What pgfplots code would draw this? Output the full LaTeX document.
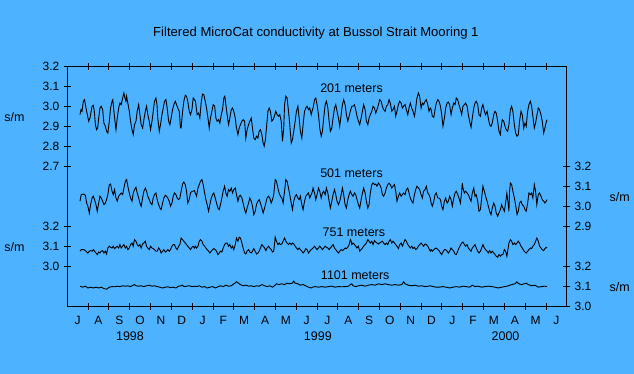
\documentclass[border=0pt]{standalone}
\usepackage{pgfplots}
\pgfplotsset{compat=1.18}
\usepackage{pgfplotstable}
\usepackage{fontspec}
\setmainfont{Liberation Sans}
\definecolor{bg}{RGB}{77,178,255}

\pgfplotstableread{
m v
0.61 2.960
0.66 2.985
0.71 2.977
0.77 3.027
0.83 3.035
0.87 3.010
0.93 2.977
1.03 2.927
1.09 2.943
1.19 3.002
1.25 3.007
1.30 2.977
1.35 2.910
1.41 2.885
1.46 2.893
1.51 2.943
1.57 2.993
1.63 3.002
1.70 2.985
1.76 2.918
1.83 2.902
1.89 2.877
1.95 2.868
2.02 2.927
2.08 2.993
2.15 3.027
2.19 3.035
2.24 2.977
2.31 2.910
2.34 2.885
2.40 2.943
2.47 2.993
2.53 3.018
2.59 3.010
2.66 3.043
2.72 3.068
2.77 3.043
2.82 3.027
2.85 3.052
2.91 3.018
2.98 2.977
3.04 2.927
3.11 2.885
3.17 2.860
3.23 2.910
3.30 2.927
3.36 2.977
3.43 3.010
3.49 2.960
3.55 2.910
3.62 2.893
3.68 2.935
3.75 2.977
3.81 3.002
3.87 2.960
3.94 2.927
4.00 2.885
4.07 2.927
4.13 2.977
4.19 3.027
4.26 3.043
4.31 3.010
4.35 2.943
4.42 2.877
4.48 2.910
4.55 2.960
4.61 2.993
4.67 3.027
4.74 3.035
4.80 2.993
4.87 2.927
4.93 2.910
4.99 2.943
5.06 2.985
5.12 3.010
5.19 3.027
5.25 3.010
5.31 2.993
5.38 2.977
5.44 2.893
5.47 2.893
5.54 2.977
5.60 3.027
5.67 3.057
5.73 3.052
5.79 3.027
5.86 2.977
5.92 2.960
5.99 2.985
6.05 3.043
6.11 3.035
6.16 3.027
6.24 2.960
6.31 2.968
6.37 2.943
6.44 3.027
6.50 3.063
6.56 3.060
6.63 3.027
6.69 2.993
6.76 2.943
6.82 2.893
6.88 2.943
6.95 2.977
7.01 3.010
7.08 3.002
7.14 2.943
7.20 2.927
7.27 2.935
7.33 2.918
7.40 2.960
7.46 2.985
7.52 3.043
7.57 3.052
7.62 3.010
7.68 2.960
7.75 2.910
7.81 2.943
7.88 2.985
7.94 2.993
8.00 2.977
8.07 2.943
8.13 2.893
8.20 2.860
8.26 2.893
8.32 2.910
8.39 2.927
8.45 2.935
8.52 2.927
8.58 2.843
8.64 2.885
8.71 2.910
8.77 2.927
8.84 2.943
8.90 2.893
8.96 2.843
9.03 2.835
9.09 2.852
9.16 2.843
9.22 2.877
9.28 2.885
9.35 2.860
9.41 2.818
9.46 2.802
9.52 2.835
9.57 2.893
9.64 2.977
9.70 2.993
9.76 2.977
9.83 2.927
9.89 2.935
9.95 2.952
10.02 2.977
10.08 2.960
10.15 2.952
10.21 2.960
10.28 2.927
10.34 2.827
10.40 2.893
10.44 3.010
10.50 3.052
10.56 3.043
10.63 2.977
10.69 2.910
10.76 2.818
10.82 2.835
10.88 2.877
10.95 2.927
11.01 2.977
11.08 3.002
11.14 2.943
11.20 2.877
11.27 2.843
11.33 2.910
11.40 2.977
11.46 2.993
11.52 3.002
11.59 2.985
11.65 2.993
11.72 2.960
11.78 2.985
11.81 2.993
11.88 3.035
11.94 3.043
12.00 3.010
12.07 2.960
12.13 2.893
12.20 2.852
12.26 2.877
12.32 2.943
12.39 3.010
12.45 3.027
12.52 2.993
12.58 2.927
12.64 2.877
12.71 2.893
12.77 2.943
12.84 2.993
12.90 3.010
12.96 2.977
13.03 2.943
13.09 2.902
13.16 2.960
13.22 3.010
13.28 3.035
13.35 3.010
13.41 2.960
13.48 2.927
13.54 2.952
13.60 2.977
13.67 3.002
13.73 3.002
13.80 3.010
13.86 2.985
13.92 2.952
13.99 2.927
14.05 2.910
14.12 2.943
14.18 2.977
14.24 3.010
14.31 2.985
14.37 2.927
14.44 2.910
14.50 2.943
14.56 2.960
14.63 2.977
14.69 3.002
14.76 2.993
14.82 2.968
14.88 2.985
14.95 3.010
15.01 3.035
15.08 3.027
15.14 3.002
15.20 2.985
15.27 2.977
15.33 3.002
15.40 3.010
15.46 3.035
15.52 3.018
15.59 2.977
15.65 2.985
15.72 3.002
15.78 2.952
15.84 2.977
15.91 3.010
15.97 3.027
16.04 3.018
16.10 2.993
16.16 3.002
16.23 3.010
16.29 2.985
16.36 2.960
16.42 2.993
16.48 3.018
16.55 2.993
16.61 2.977
16.68 2.952
16.74 2.993
16.80 3.043
16.87 3.068
16.93 3.052
17.00 2.993
17.06 3.018
17.12 3.010
17.19 3.027
17.25 3.035
17.32 3.010
17.38 2.977
17.44 2.993
17.48 2.985
17.54 2.952
17.61 2.947
17.67 2.985
17.73 3.018
17.80 3.035
17.86 3.027
17.93 3.002
17.99 2.960
18.05 2.902
18.12 2.943
18.18 2.993
18.25 3.018
18.31 3.023
18.37 3.010
18.44 2.960
18.50 2.993
18.57 3.018
18.63 3.010
18.69 3.043
18.76 3.035
18.82 3.010
18.89 2.985
18.95 2.960
19.01 3.002
19.08 3.010
19.14 3.018
19.21 3.002
19.27 2.960
19.33 2.927
19.40 2.897
19.46 2.943
19.53 2.993
19.59 3.018
19.65 3.027
19.72 3.010
19.78 2.960
19.85 2.952
19.91 2.993
19.97 3.010
20.04 2.977
20.10 2.960
20.17 2.977
20.23 2.943
20.29 2.910
20.36 2.902
20.42 2.918
20.49 2.960
20.55 2.977
20.61 2.968
20.68 2.927
20.74 2.877
20.81 2.860
20.84 2.893
20.90 2.935
20.97 2.927
21.03 2.902
21.09 2.885
21.16 2.877
21.22 2.910
21.29 2.985
21.35 3.002
21.41 2.977
21.48 2.910
21.54 2.868
21.61 2.852
21.67 2.860
21.73 2.927
21.80 2.977
21.86 2.960
21.93 2.893
21.99 2.918
22.05 2.902
22.12 2.977
22.18 3.010
22.25 3.027
22.31 3.002
22.37 2.952
22.44 2.893
22.50 2.918
22.57 2.960
22.63 2.993
22.69 2.985
22.76 2.960
22.82 2.927
22.89 2.868
22.95 2.893
22.98 2.910
23.05 2.935
}\tA

\pgfplotstableread{
m v
0.61 3.027
0.67 3.060
0.77 3.063
0.87 3.057
0.93 3.018
0.99 3.002
1.06 2.968
1.12 3.010
1.19 3.043
1.25 3.052
1.31 3.035
1.38 3.010
1.44 2.977
1.51 3.018
1.57 3.052
1.63 3.043
1.70 3.027
1.76 3.010
1.83 3.018
1.89 3.035
1.95 3.060
2.02 3.110
2.08 3.113
2.15 3.077
2.21 3.060
2.27 3.085
2.34 3.043
2.40 3.027
2.47 3.052
2.53 3.060
2.59 3.068
2.66 3.060
2.72 3.093
2.79 3.127
2.85 3.135
2.91 3.102
2.98 3.068
3.04 3.043
3.11 3.027
3.17 3.068
3.23 3.085
3.30 3.097
3.36 3.068
3.43 3.043
3.49 3.018
3.55 3.002
3.62 3.043
3.68 3.077
3.75 3.093
3.81 3.077
3.87 3.052
3.94 3.035
4.00 3.018
4.07 3.010
4.13 3.043
4.19 3.060
4.26 3.068
4.32 3.035
4.39 3.010
4.45 2.993
4.51 2.985
4.58 3.018
4.64 3.043
4.71 3.057
4.77 3.052
4.83 3.043
4.90 3.027
4.96 3.002
5.03 3.018
5.09 3.052
5.15 3.068
5.22 3.060
5.28 3.043
5.35 3.035
5.41 3.043
5.47 3.077
5.54 3.113
5.60 3.123
5.67 3.110
5.73 3.077
5.79 3.018
5.86 3.035
5.92 3.068
5.99 3.077
6.05 3.077
6.11 3.080
6.15 3.068
6.21 3.052
6.28 3.093
6.34 3.110
6.40 3.127
6.47 3.135
6.53 3.110
6.60 3.068
6.66 3.035
6.72 3.010
6.79 2.977
6.85 3.010
6.92 3.043
6.98 3.060
7.04 3.068
7.11 3.043
7.17 3.018
7.24 2.993
7.30 2.985
7.36 3.010
7.43 3.043
7.49 3.077
7.56 3.102
7.62 3.068
7.68 3.052
7.75 3.085
7.81 3.077
7.88 3.093
7.94 3.068
8.00 3.085
8.07 3.093
8.13 3.060
8.20 3.027
8.26 3.052
8.32 3.057
8.39 3.043
8.45 3.018
8.52 2.985
8.58 2.968
8.64 2.993
8.71 3.018
8.77 3.043
8.84 3.027
8.90 3.002
8.96 2.960
9.03 2.977
9.09 3.010
9.16 3.027
9.22 3.035
9.28 3.018
9.35 2.993
9.41 2.968
9.48 2.993
9.54 3.018
9.60 3.043
9.67 3.052
9.73 3.043
9.80 3.018
9.86 3.035
9.92 3.060
9.99 3.135
10.05 3.127
10.12 3.093
10.18 3.068
10.24 3.052
10.31 3.043
10.37 3.018
10.44 3.077
10.50 3.135
10.56 3.127
10.63 3.093
10.69 3.060
10.76 3.018
10.82 2.985
10.88 3.027
10.95 3.052
11.01 3.060
11.08 3.043
11.14 3.035
11.20 3.052
11.27 3.010
11.33 2.985
11.40 3.027
11.46 3.052
11.52 3.060
11.59 3.068
11.65 3.043
11.72 3.060
11.78 3.077
11.81 3.093
11.88 3.068
11.94 3.035
12.00 3.060
12.07 3.093
12.13 3.077
12.20 3.043
12.26 3.068
12.32 3.077
12.39 3.060
12.45 3.093
12.52 3.068
12.58 3.027
12.64 2.993
12.71 3.027
12.77 3.060
12.84 3.085
12.90 3.060
12.96 3.027
13.03 3.010
13.09 3.027
13.16 3.060
13.22 3.093
13.28 3.060
13.35 3.010
13.41 2.993
13.48 3.035
13.54 3.060
13.60 3.077
13.67 3.060
13.73 3.052
13.80 3.068
13.86 3.060
13.92 3.035
13.99 3.010
14.05 2.993
14.12 3.035
14.18 3.068
14.24 3.093
14.31 3.068
14.37 3.027
14.44 2.993
14.50 3.010
14.56 3.068
14.63 3.110
14.69 3.118
14.76 3.110
14.82 3.113
14.88 3.102
14.95 3.118
15.01 3.110
15.08 3.093
15.14 3.060
15.20 3.052
15.27 3.068
15.33 3.093
15.40 3.110
15.46 3.118
15.52 3.110
15.59 3.093
15.65 3.102
15.72 3.110
15.78 3.077
15.84 3.027
15.91 3.052
15.97 3.068
16.04 3.052
16.10 3.060
16.16 3.068
16.23 3.060
16.29 3.085
16.36 3.093
16.42 3.068
16.48 3.043
16.55 3.027
16.61 3.018
16.68 3.060
16.74 3.085
16.80 3.102
16.87 3.093
16.93 3.085
17.00 3.060
17.06 3.043
17.12 3.077
17.19 3.085
17.25 3.102
17.32 3.068
17.38 3.060
17.44 3.043
17.48 3.018
17.54 3.002
17.61 3.027
17.67 3.060
17.73 3.068
17.80 3.043
17.86 3.043
17.93 3.035
17.99 3.002
18.05 2.985
18.12 3.027
18.18 3.043
18.25 3.018
18.31 3.027
18.37 3.052
18.44 3.035
18.50 3.002
18.57 3.043
18.63 3.068
18.69 3.077
18.76 3.060
18.82 3.043
18.89 3.018
18.95 3.077
18.98 3.118
19.01 3.093
19.08 3.068
19.14 3.077
19.21 3.068
19.27 3.060
19.33 3.043
19.40 3.027
19.46 3.068
19.53 3.093
19.59 3.052
19.65 3.060
19.72 3.027
19.78 2.977
19.85 2.985
19.91 3.043
19.97 3.102
20.04 3.077
20.10 3.052
20.17 3.027
20.23 3.002
20.29 2.977
20.36 2.960
20.42 2.993
20.49 3.018
20.55 3.002
20.61 2.968
20.68 2.952
20.74 2.968
20.81 2.985
20.87 3.010
20.93 2.993
21.00 2.977
21.06 3.018
21.12 3.068
21.19 3.010
21.22 2.977
21.25 3.077
21.29 3.118
21.35 3.110
21.41 3.077
21.48 3.043
21.54 3.010
21.61 2.960
21.67 2.977
21.73 3.018
21.80 3.027
21.86 3.010
21.93 3.002
21.99 2.985
22.05 2.977
22.12 3.018
22.18 3.068
22.25 3.060
22.31 3.068
22.37 3.043
22.44 3.110
22.50 3.077
22.56 3.010
22.63 3.060
22.69 3.068
22.76 3.052
22.82 3.035
22.89 3.027
22.95 3.018
23.01 3.027
23.05 3.035
}\tB

\pgfplotstableread{
m v
0.61 3.077
0.67 3.085
0.80 3.085
0.90 3.077
0.99 3.068
1.06 3.077
1.12 3.080
1.19 3.077
1.25 3.085
1.31 3.077
1.38 3.068
1.44 3.060
1.51 3.073
1.57 3.068
1.63 3.077
1.70 3.080
1.76 3.068
1.83 3.077
1.89 3.063
1.95 3.093
2.02 3.102
2.08 3.097
2.15 3.093
2.21 3.102
2.27 3.090
2.34 3.097
2.40 3.102
2.47 3.093
2.53 3.110
2.59 3.093
2.66 3.102
2.72 3.110
2.79 3.093
2.85 3.102
2.91 3.085
2.98 3.093
3.04 3.110
3.11 3.118
3.17 3.102
3.23 3.135
3.30 3.127
3.36 3.110
3.43 3.102
3.49 3.110
3.55 3.093
3.62 3.113
3.68 3.118
3.75 3.127
3.81 3.102
3.87 3.093
3.94 3.085
4.00 3.102
4.07 3.093
4.13 3.090
4.19 3.085
4.26 3.077
4.32 3.077
4.39 3.093
4.45 3.085
4.51 3.068
4.58 3.077
4.64 3.085
4.71 3.073
4.77 3.077
4.83 3.085
4.90 3.077
4.96 3.085
5.03 3.102
5.09 3.110
5.15 3.110
5.22 3.093
5.28 3.085
5.35 3.102
5.41 3.110
5.47 3.143
5.54 3.135
5.60 3.127
5.67 3.118
5.73 3.110
5.79 3.102
5.86 3.093
5.92 3.085
5.99 3.097
6.05 3.102
6.11 3.093
6.15 3.102
6.21 3.093
6.28 3.102
6.34 3.127
6.40 3.135
6.47 3.127
6.53 3.110
6.60 3.102
6.66 3.093
6.72 3.085
6.79 3.077
6.85 3.068
6.92 3.077
6.98 3.085
7.04 3.090
7.11 3.085
7.17 3.077
7.24 3.060
7.30 3.068
7.36 3.077
7.43 3.073
7.49 3.093
7.56 3.110
7.62 3.118
7.68 3.118
7.75 3.102
7.81 3.110
7.88 3.093
7.94 3.102
8.00 3.085
8.07 3.110
8.13 3.143
8.20 3.127
8.26 3.147
8.32 3.143
8.39 3.118
8.45 3.093
8.52 3.068
8.58 3.063
8.64 3.077
8.71 3.085
8.77 3.073
8.84 3.068
8.90 3.077
8.96 3.090
9.03 3.077
9.09 3.063
9.16 3.068
9.22 3.077
9.28 3.093
9.35 3.110
9.41 3.102
9.48 3.093
9.54 3.080
9.60 3.093
9.67 3.102
9.73 3.093
9.80 3.085
9.86 3.073
9.92 3.077
9.99 3.147
10.05 3.127
10.12 3.110
10.18 3.118
10.24 3.110
10.31 3.113
10.37 3.127
10.44 3.143
10.50 3.127
10.56 3.118
10.63 3.110
10.69 3.118
10.76 3.110
10.82 3.118
10.88 3.113
10.95 3.102
11.01 3.093
11.08 3.085
11.14 3.093
11.20 3.085
11.27 3.077
11.33 3.068
11.40 3.077
11.46 3.090
11.52 3.085
11.59 3.068
11.65 3.077
11.72 3.085
11.78 3.090
11.81 3.093
11.88 3.102
11.94 3.093
12.00 3.085
12.07 3.093
12.13 3.102
12.20 3.093
12.26 3.085
12.32 3.093
12.39 3.102
12.45 3.097
12.52 3.093
12.58 3.085
12.64 3.093
12.71 3.102
12.77 3.110
12.84 3.093
12.90 3.085
12.96 3.077
13.03 3.068
13.09 3.077
13.16 3.085
13.22 3.080
13.28 3.085
13.35 3.093
13.41 3.090
13.48 3.097
13.54 3.110
13.60 3.135
13.64 3.127
13.67 3.110
13.73 3.118
13.80 3.110
13.86 3.102
13.92 3.093
13.99 3.102
14.05 3.077
14.12 3.085
14.18 3.093
14.24 3.102
14.31 3.110
14.37 3.118
14.44 3.135
14.50 3.127
14.56 3.118
14.63 3.127
14.69 3.110
14.76 3.130
14.82 3.123
14.88 3.118
14.95 3.113
15.01 3.118
15.08 3.123
15.14 3.127
15.20 3.118
15.27 3.110
15.33 3.118
15.40 3.110
15.46 3.127
15.52 3.135
15.59 3.118
15.65 3.127
15.72 3.118
15.78 3.110
15.84 3.102
15.91 3.090
15.97 3.110
16.04 3.118
16.10 3.102
16.16 3.118
16.23 3.135
16.29 3.127
16.36 3.110
16.42 3.102
16.48 3.093
16.55 3.102
16.61 3.090
16.68 3.097
16.74 3.085
16.80 3.090
16.87 3.102
16.93 3.110
17.00 3.118
17.06 3.110
17.12 3.102
17.19 3.113
17.25 3.110
17.32 3.102
17.38 3.090
17.44 3.077
17.48 3.085
17.54 3.077
17.61 3.085
17.67 3.090
17.73 3.093
17.80 3.085
17.86 3.080
17.93 3.068
17.99 3.060
18.05 3.073
18.12 3.085
18.18 3.085
18.25 3.077
18.31 3.068
18.37 3.077
18.44 3.093
18.50 3.085
18.57 3.077
18.63 3.063
18.69 3.060
18.76 3.077
18.82 3.093
18.89 3.107
18.95 3.118
19.01 3.123
19.08 3.110
19.14 3.102
19.21 3.110
19.27 3.093
19.33 3.085
19.40 3.077
19.46 3.093
19.53 3.102
19.59 3.110
19.65 3.093
19.72 3.077
19.78 3.068
19.85 3.077
19.91 3.093
19.97 3.110
20.04 3.093
20.10 3.085
20.17 3.077
20.23 3.068
20.29 3.080
20.36 3.068
20.42 3.077
20.49 3.068
20.55 3.060
20.61 3.052
20.68 3.047
20.74 3.060
20.81 3.052
20.87 3.060
20.93 3.060
21.00 3.085
21.06 3.077
21.12 3.052
21.16 3.077
21.22 3.118
21.29 3.135
21.35 3.127
21.41 3.110
21.48 3.118
21.54 3.110
21.61 3.118
21.67 3.127
21.73 3.118
21.80 3.102
21.86 3.093
21.93 3.080
21.99 3.073
22.05 3.068
22.12 3.077
22.18 3.085
22.25 3.093
22.31 3.090
22.37 3.102
22.44 3.110
22.50 3.127
22.56 3.143
22.63 3.127
22.69 3.102
22.76 3.093
22.82 3.085
22.89 3.080
22.95 3.090
23.01 3.097
23.05 3.093
}\tC

\pgfplotstableread{
m v
0.61 3.102
0.74 3.097
0.87 3.102
0.99 3.093
1.12 3.097
1.25 3.093
1.38 3.097
1.51 3.093
1.63 3.097
1.76 3.090
1.89 3.087
2.02 3.097
2.15 3.100
2.27 3.099
2.40 3.102
2.53 3.100
2.66 3.104
2.79 3.102
2.91 3.104
3.04 3.100
3.17 3.107
3.23 3.110
3.30 3.104
3.43 3.102
3.55 3.104
3.68 3.100
3.81 3.104
3.94 3.107
4.07 3.102
4.19 3.104
4.32 3.100
4.45 3.097
4.58 3.093
4.71 3.097
4.83 3.099
4.96 3.095
5.09 3.097
5.22 3.093
5.35 3.102
5.47 3.104
5.54 3.107
5.60 3.100
5.73 3.102
5.86 3.104
5.99 3.100
6.11 3.102
6.21 3.100
6.34 3.104
6.47 3.097
6.60 3.100
6.72 3.093
6.85 3.097
6.98 3.100
7.11 3.093
7.24 3.099
7.36 3.104
7.49 3.100
7.62 3.107
7.75 3.102
7.88 3.104
8.00 3.114
8.07 3.118
8.13 3.124
8.20 3.120
8.26 3.114
8.32 3.110
8.45 3.104
8.58 3.107
8.71 3.102
8.84 3.104
8.96 3.100
9.09 3.104
9.22 3.102
9.35 3.110
9.48 3.104
9.60 3.100
9.73 3.104
9.86 3.097
9.99 3.107
10.05 3.114
10.18 3.110
10.31 3.114
10.44 3.110
10.56 3.117
10.69 3.114
10.82 3.118
10.88 3.127
10.95 3.117
11.08 3.114
11.20 3.107
11.33 3.110
11.46 3.104
11.59 3.097
11.72 3.093
11.78 3.097
11.91 3.100
12.07 3.097
12.23 3.100
12.39 3.097
12.55 3.100
12.71 3.102
12.87 3.097
13.03 3.100
13.19 3.099
13.35 3.100
13.51 3.102
13.60 3.110
13.67 3.114
13.73 3.104
13.86 3.100
13.99 3.104
14.15 3.107
14.31 3.102
14.47 3.107
14.63 3.110
14.79 3.107
14.95 3.114
15.11 3.110
15.27 3.114
15.43 3.110
15.59 3.107
15.75 3.110
15.91 3.107
16.07 3.110
16.16 3.124
16.23 3.114
16.39 3.107
16.55 3.104
16.71 3.107
16.87 3.102
17.03 3.104
17.19 3.100
17.35 3.102
17.44 3.104
17.57 3.100
17.73 3.097
17.89 3.097
18.05 3.100
18.21 3.097
18.37 3.093
18.53 3.097
18.69 3.100
18.85 3.097
19.01 3.102
19.17 3.100
19.33 3.097
19.46 3.107
19.59 3.100
19.75 3.102
19.91 3.097
20.07 3.100
20.23 3.102
20.39 3.100
20.55 3.097
20.71 3.093
20.87 3.097
21.03 3.100
21.19 3.104
21.35 3.110
21.51 3.114
21.60 3.124
21.70 3.114
21.83 3.110
21.96 3.114
22.05 3.117
22.15 3.110
22.31 3.104
22.47 3.107
22.63 3.097
22.79 3.100
22.95 3.102
23.05 3.100
}\tD

\begin{document}
\fontsize{12.5}{15}\selectfont
\begin{tikzpicture}
\fill[bg] (0pt,0pt) rectangle (634pt,374pt);
\begin{axis}[
  at={(67.3pt,67.3pt)}, anchor=south west,
  scale only axis, width=499.7pt, height=240pt,
  xmin=0, xmax=24, ymin=2.0, ymax=3.2,
  axis line style={line width=0.9pt},
  tick align=center, major tick length=7pt,
  tick style={line width=0.9pt, black},
  xtick={1,...,23},
  xticklabels={,,,,,,,,,,,,,,,,,,,,,,,},
  extra x ticks={0.5,1.5,...,23.5},
  extra x tick labels={J,A,S,O,N,D,J,F,M,A,M,J,J,A,S,O,N,D,J,F,M,A,M,J},
  extra x tick style={major tick length=0pt, tick style={draw=none}},
  xticklabel style={yshift=-5pt},
  ytick={2.2,2.3,2.4,2.7,2.8,2.9,3.0,3.1,3.2},
  yticklabels={3.0,3.1,3.2,2.7,2.8,2.9,3.0,3.1,3.2},
  ytick pos=left,
  tick label style={font=\fontsize{12}{14}\selectfont},
]
\addplot[black, line width=0.9pt] table[x=m, y=v] {\tA};
\addplot[black, line width=0.9pt] table[x=m, y expr=\thisrow{v}-0.5] {\tB};
\addplot[black, line width=0.9pt] table[x=m, y expr=\thisrow{v}-0.8] {\tC};
\addplot[black, line width=0.9pt] table[x=m, y expr=\thisrow{v}-1.0] {\tD};
\node[anchor=west, inner sep=0pt] at (axis cs:12.146,3.091) {201 meters};
\node[anchor=west, inner sep=0pt] at (axis cs:12.146,2.667) {501 meters};
\node[anchor=west, inner sep=0pt] at (axis cs:12.26,2.370) {751 meters};
\node[anchor=west, inner sep=0pt] at (axis cs:12.18,2.155) {1101 meters};
\end{axis}
\begin{axis}[
  at={(67.3pt,67.3pt)}, anchor=south west,
  scale only axis, width=499.7pt, height=240pt,
  xmin=0, xmax=24, ymin=2.0, ymax=3.2,
  axis x line=none, axis y line*=right,
  axis line style={line width=0.9pt},
  tick align=center, major tick length=7pt,
  tick style={line width=0.9pt, black},
  ytick={2.0,2.1,2.2,2.4,2.5,2.6,2.7},
  yticklabels={3.0,3.1,3.2,2.9,3.0,3.1,3.2},
  tick label style={font=\fontsize{12}{14}\selectfont},
]
\end{axis}
\node[font=\fontsize{13.1}{15}\selectfont] at (316pt,341pt) {Filtered MicroCat conductivity at Bussol Strait Mooring 1};
\node at (14.5pt,256.7pt) {s/m};
\node at (14.5pt,126.7pt) {s/m};
\node at (620pt,177.3pt) {s/m};
\node at (620pt,86.7pt) {s/m};
\node at (130pt,38pt) {1998};
\node at (318pt,38pt) {1999};
\node at (505.7pt,38pt) {2000};
\end{tikzpicture}
\end{document}
